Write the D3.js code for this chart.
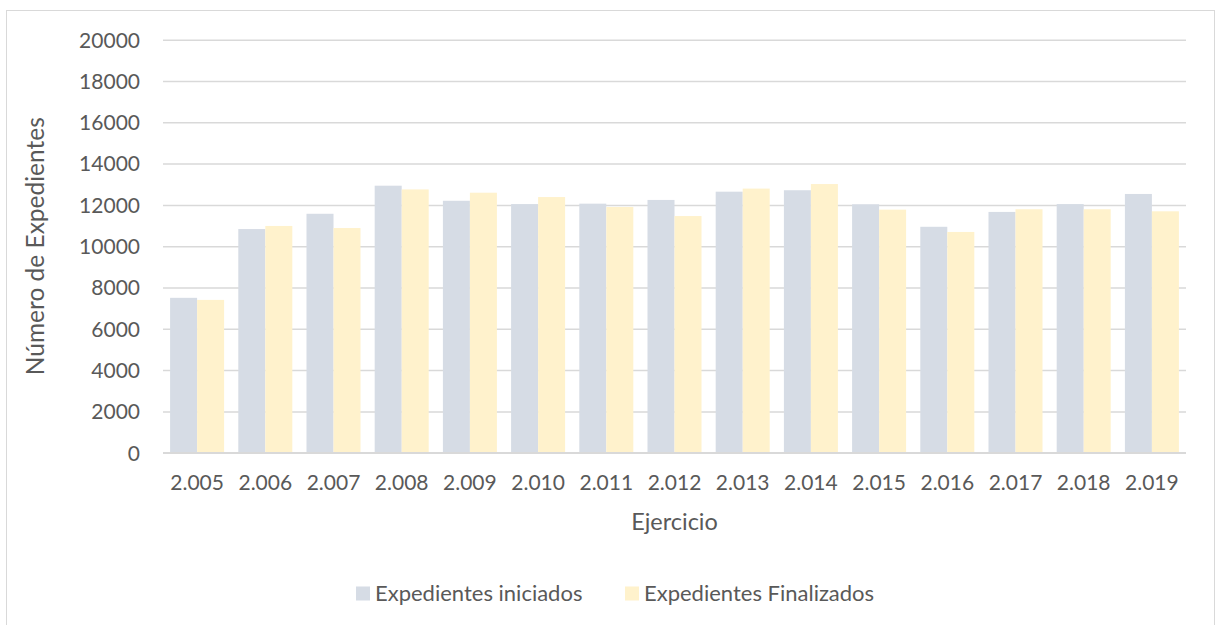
<!DOCTYPE html>
<html>
<head>
<meta charset="utf-8">
<script src="https://cdn.jsdelivr.net/npm/d3@7"></script>
<style>
  html, body { margin: 0; padding: 0; background: #fff; }
  svg { display: block; }
  text { font-family: Lato, "Open Sans", sans-serif; fill: #595959; }
</style>
</head>
<body>
<svg id="chart" width="1216" height="625"></svg>
<script>
const years = ["2.005","2.006","2.007","2.008","2.009","2.010","2.011","2.012","2.013","2.014","2.015","2.016","2.017","2.018","2.019"];
const iniciados   = [7500, 10830, 11570, 12930, 12200, 12040, 12060, 12240, 12640, 12710, 12030, 10940, 11660, 12040, 12530];
const finalizados = [7400, 10980, 10880, 12750, 12590, 12380, 11900, 11460, 12790, 13010, 11770, 10690, 11790, 11790, 11690];
const seriesNames = ["Expedientes iniciados", "Expedientes Finalizados"];
const seriesColors = ["#D6DCE5", "#FFF2CC"];
const yTicks = [0, 2000, 4000, 6000, 8000, 10000, 12000, 14000, 16000, 18000, 20000];

const svg = d3.select("#chart");
const plot = {left: 163, right: 1186, top: 39.7, bottom: 452.7};

// chart border
svg.append("rect")
  .attr("x", 6.5).attr("y", 10.5)
  .attr("width", 1208).attr("height", 640)
  .attr("fill", "none").attr("stroke", "#D9D9D9").attr("stroke-width", 1);

const x0 = d3.scaleBand().domain(years).range([plot.left, plot.right]).paddingInner(0.208).paddingOuter(0.104);
const x1 = d3.scaleBand().domain([0, 1]).range([0, x0.bandwidth()]);
const y = d3.scaleLinear().domain([0, 20000]).range([plot.bottom, plot.top]);

// gridlines
const yAxis = d3.axisLeft(y).tickValues(yTicks).tickSize(-(plot.right - plot.left)).tickFormat(d3.format("d"));
const gy = svg.append("g").attr("transform", `translate(${plot.left},0)`).call(yAxis);
gy.select(".domain").remove();
gy.selectAll(".tick line").attr("stroke", "#D9D9D9").attr("stroke-width", 1.5);
gy.selectAll(".tick text").attr("x", -23).attr("dy", "0.35em")
  .style("font-size", "21px").attr("fill", "#595959");

// bars
const groups = svg.append("g").selectAll("g").data(years).join("g")
  .attr("transform", d => `translate(${x0(d)},0)`);
groups.selectAll("rect").data((d, i) => [iniciados[i], finalizados[i]]).join("rect")
  .attr("x", (d, j) => x1(j))
  .attr("width", x1.bandwidth())
  .attr("y", d => y(d))
  .attr("height", d => y(0) - y(d))
  .attr("fill", (d, j) => seriesColors[j]);

// x axis
const xAxis = d3.axisBottom(x0).tickSize(0);
const gx = svg.append("g").attr("transform", `translate(0,${plot.bottom})`).call(xAxis);
gx.select(".domain").attr("stroke", "#D9D9D9").attr("stroke-width", 1.5)
  .attr("d", `M${plot.left},0H${plot.right}`);
gx.selectAll(".tick text").attr("y", 30).attr("dy", "0.35em").style("font-size", "21px").attr("fill", "#595959");

// axis titles
svg.append("text").attr("x", (plot.left + plot.right) / 2).attr("y", 522).attr("dy", "0.35em")
  .attr("text-anchor", "middle").style("font-size", "23.5px").text("Ejercicio");
svg.append("text").attr("transform", `translate(35,${(plot.top + plot.bottom) / 2}) rotate(-90)`)
  .attr("dy", "0.35em").attr("text-anchor", "middle").style("font-size", "24.5px").text("Número de Expedientes");

// legend
const legendX = [356, 625];
const leg = svg.append("g").selectAll("g").data(seriesNames).join("g")
  .attr("transform", (d, i) => `translate(${legendX[i]},593.5)`);
leg.append("rect").attr("x", 0).attr("y", -7).attr("width", 14).attr("height", 14)
  .attr("fill", (d, i) => seriesColors[i]);
leg.append("text").attr("x", 19).attr("dy", "0.35em").style("font-size", "22px").text(d => d);
</script>
</body>
</html>
